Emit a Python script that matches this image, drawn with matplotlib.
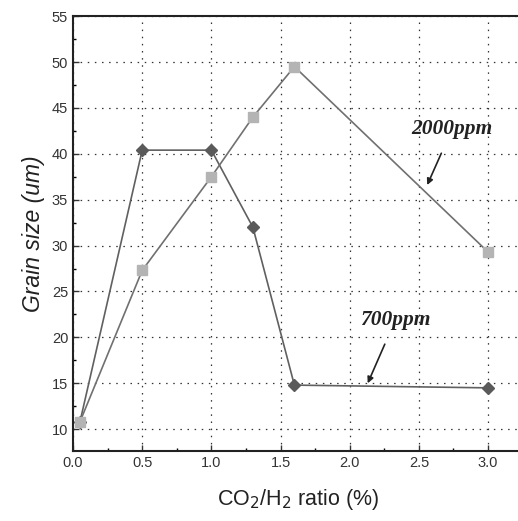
import matplotlib
matplotlib.use("Agg")
import matplotlib.pyplot as plt
from matplotlib.ticker import MultipleLocator

# CO2/H2 ratio (%)
ratio = [0.05, 0.5, 1.0, 1.3, 1.6, 3.0]
# grain size (um)
size_700 = [10.8, 40.4, 40.4, 32.0, 14.8, 14.5]
size_2000 = [10.8, 27.3, 37.5, 44.0, 49.5, 29.3]

plt.rcParams['font.family'] = ['Liberation Sans', 'DejaVu Sans']

fig = plt.figure(figsize=(5.18, 5.21), dpi=100)
ax = fig.add_axes([0.141, 0.134, 0.868, 0.835])

ax.plot(ratio, size_700, color='#606060', lw=1.2, marker='D', ms=6.5,
        mfc='#5a5a5a', mec='#5a5a5a', zorder=3)
ax.plot(ratio, size_2000, color='#707070', lw=1.2, marker='s', ms=7.5,
        mfc='#b4b4b4', mec='#b4b4b4', zorder=4)

ax.set_xlim(0, 3.25)
ax.set_ylim(7.6, 55)
ax.xaxis.set_minor_locator(MultipleLocator(0.25))
ax.yaxis.set_minor_locator(MultipleLocator(2.5))
ax.set_xticks([0, 0.5, 1.0, 1.5, 2.0, 2.5, 3.0])
ax.set_xticklabels(['0.0', '0.5', '1.0', '1.5', '2.0', '2.5', '3.0'])
ax.set_yticks([10, 15, 20, 25, 30, 35, 40, 45, 50, 55])

ax.tick_params(which='major', direction='in', length=4, width=1.0,
               labelsize=10.5, colors='#333333')
ax.tick_params(which='minor', direction='in', length=2, width=1.0)
ax.grid(True, which='major', color='#333333', lw=0.9, ls=(0, (1.2, 4.5)))
for s in ax.spines.values():
    s.set_linewidth(1.5)
    s.set_color('#222222')

ax.set_xlabel('CO$_2$/H$_2$ ratio (%)', fontsize=15.5, labelpad=12, color='#222222')
ax.set_ylabel('Grain size (um)', fontsize=16.5, style='italic', labelpad=5, color='#222222')

ax.annotate('2000ppm', xy=(2.56, 36.6), xytext=(2.74, 42.7),
            fontsize=15.5, fontweight='bold', style='italic',
            family='Liberation Serif', ha='center', va='center', color='#222222',
            arrowprops=dict(arrowstyle='-|>', color='#222222', lw=1.2,
                            mutation_scale=9, shrinkA=9, shrinkB=0))
ax.annotate('700ppm', xy=(2.13, 15.0), xytext=(2.33, 21.9),
            fontsize=15.5, fontweight='bold', style='italic',
            family='Liberation Serif', ha='center', va='center', color='#222222',
            arrowprops=dict(arrowstyle='-|>', color='#222222', lw=1.2,
                            mutation_scale=9, shrinkA=9, shrinkB=0))

fig.savefig('out.png', dpi=100)
